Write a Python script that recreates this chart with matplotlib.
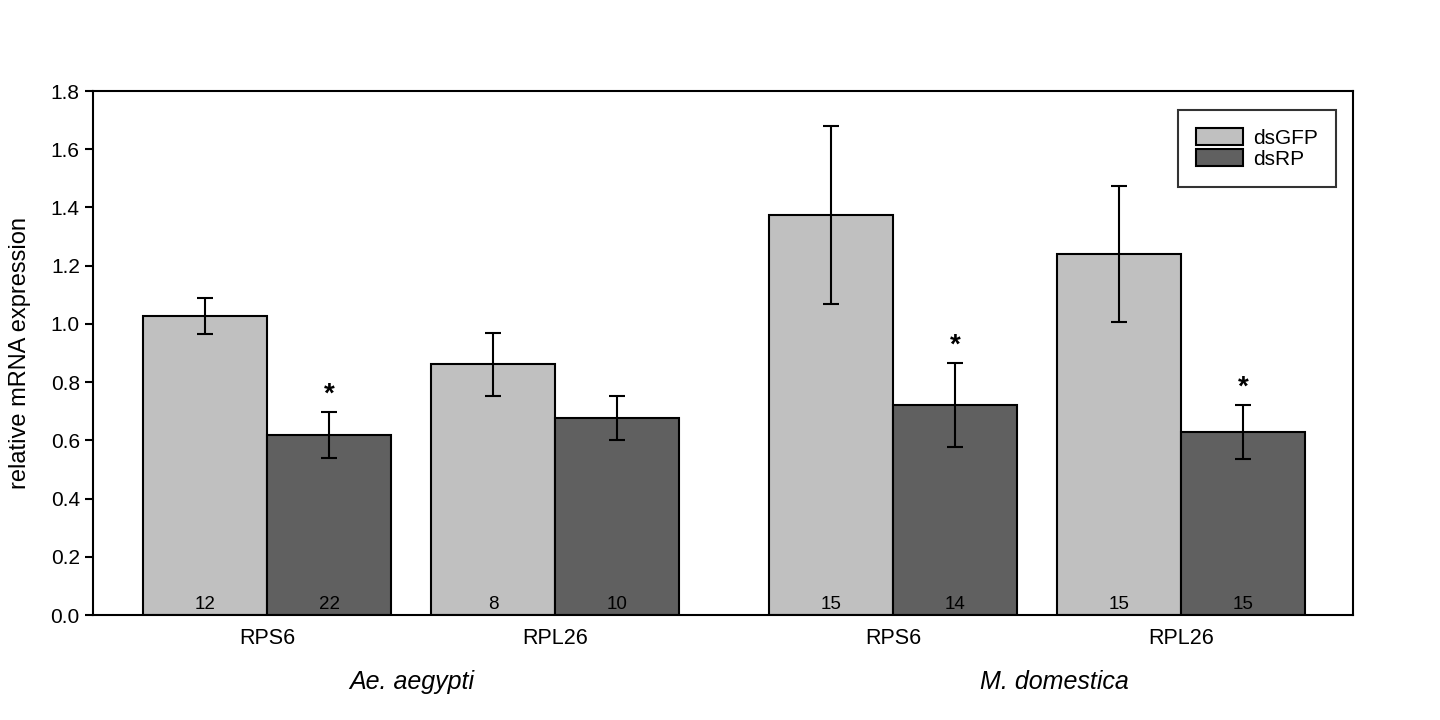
import matplotlib.pyplot as plt

plt.rcParams['font.family'] = ['Liberation Sans', 'DejaVu Sans']

genes = ["RPS6", "RPL26", "RPS6", "RPL26"]
species = ["Ae. aegypti", "M. domestica"]

dsgfp = [1.027, 0.862, 1.374, 1.240]
dsgfp_err = [0.062, 0.108, 0.307, 0.234]
dsrp = [0.618, 0.677, 0.721, 0.629]
dsrp_err = [0.079, 0.076, 0.144, 0.093]

n_gfp = [12, 8, 15, 15]
n_rp = [22, 10, 14, 15]
signif = [True, False, True, True]

centers = [1.403, 3.726, 6.452, 8.774]
species_x = [2.57, 7.75]
width = 1.0

fig = plt.figure(figsize=(14.4, 7.2), dpi=100)
ax = fig.add_axes([0.0646, 0.1458, 0.875, 0.7278])

lw = 1.5
gfp_x = [c - width / 2 for c in centers]
rp_x = [c + width / 2 for c in centers]

ax.bar(gfp_x, dsgfp, width, color="#c0c0c0", edgecolor="black", linewidth=lw, label="dsGFP", zorder=2)
ax.bar(rp_x, dsrp, width, color="#606060", edgecolor="black", linewidth=lw, label="dsRP", zorder=2)

ax.errorbar(gfp_x, dsgfp, yerr=dsgfp_err, fmt="none", ecolor="black", elinewidth=lw,
            capsize=6, capthick=lw, zorder=3)
ax.errorbar(rp_x, dsrp, yerr=dsrp_err, fmt="none", ecolor="black", elinewidth=lw,
            capsize=6, capthick=lw, zorder=3)

for i in range(len(centers)):
    ax.text(gfp_x[i], 0.008, str(n_gfp[i]), ha="center", va="bottom", fontsize=13.5, zorder=4)
    ax.text(rp_x[i], 0.008, str(n_rp[i]), ha="center", va="bottom", fontsize=13.5, zorder=4)
    if signif[i]:
        ax.text(rp_x[i], dsrp[i] + dsrp_err[i] + 0.015, "*", ha="center", va="bottom",
                fontsize=20, fontweight="bold")

ax.set_xlim(0, 10.16)
ax.set_ylim(0, 1.8)
ax.set_yticks([0.0, 0.2, 0.4, 0.6, 0.8, 1.0, 1.2, 1.4, 1.6, 1.8])
ax.set_yticklabels(["0.0", "0.2", "0.4", "0.6", "0.8", "1.0", "1.2", "1.4", "1.6", "1.8"])
ax.set_xticks(centers)
ax.set_xticklabels(genes)
ax.tick_params(axis="y", direction="out", length=6, width=lw, labelsize=15)
ax.tick_params(axis="x", length=0, pad=9, labelsize=15.5)
for s in ax.spines.values():
    s.set_linewidth(lw)

ax.set_ylabel("relative mRNA expression", fontsize=17, labelpad=14)

for sx, name in zip(species_x, species):
    ax.text(sx, -0.23, name, style="italic", fontsize=18, ha="center", va="center")

leg = ax.legend(loc="upper right", bbox_to_anchor=(0.9865, 0.963), fontsize=15, frameon=True,
                fancybox=False, edgecolor="black", handlelength=2.25, handleheight=0.9,
                borderpad=0.85, labelspacing=0.05, handletextpad=0.5, borderaxespad=0)
leg.get_frame().set_linewidth(lw)

plt.savefig("out.png", dpi=100)
